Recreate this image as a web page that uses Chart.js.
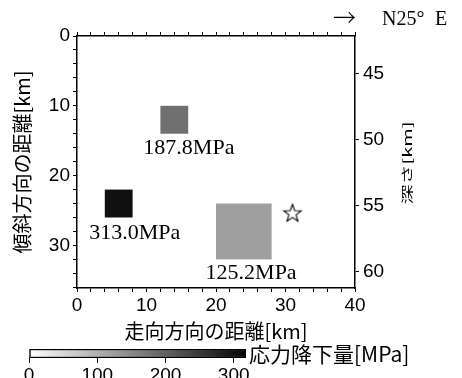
<!DOCTYPE html>
<html>
<head>
<meta charset="utf-8">
<script src="https://cdn.jsdelivr.net/npm/chart.js@4/dist/chart.umd.min.js"></script>
<style>
  html, body { margin: 0; padding: 0; background: #fff; overflow: hidden; }
  #wrap { position: relative; width: 462px; height: 378px; }
  #main { position: absolute; left: 0; top: 0; }
  #bar { position: absolute; left: 0; top: 340px; }
</style>
</head>
<body>
<div id="wrap">
  <canvas id="main" width="462" height="346"></canvas>
  <canvas id="bar" width="462" height="50"></canvas>
</div>
<script>
// Slip patches: extent along strike / down dip (km) and stress drop (MPa)
const patchX0 = [12, 4, 20];
const patchX1 = [16, 8, 28];
const patchY0 = [10, 22, 24];
const patchY1 = [14, 26, 32];
const stressDrop = [187.8, 313.0, 125.2];

// Where each stress-drop label sits (km)
const labelX = [16.1, 8.3, 25.05];
const labelY = [16.1, 28.2, 34.0];

// Hypocenter (km along strike, km down dip)
const hypoX = [31.0];
const hypoY = [25.3];

// Axis ranges and ticks
const strikeRange = [0, 40];
const dipRange = [0, 36.1];
const depthRange = [42.12, 61.24];
const colorRange = [0, 318];
const colorScaleMax = 334;
const strikeTicks = [0, 2, 4, 6, 8, 10, 12, 14, 16, 18, 20, 22, 24, 26, 28, 30, 32, 34, 36, 38, 40];
const dipTicks = [0, 2, 4, 6, 8, 10, 12, 14, 16, 18, 20, 22, 24, 26, 28, 30, 32, 34, 36];
const depthTicks = [45, 50, 55, 60];
const colorTicks = [0, 100, 200, 300];

const SANS = "'Liberation Sans', Arial, sans-serif";
const SERIF = "'Liberation Serif', 'Times New Roman', serif";
const CJK = "'Noto Sans CJK JP', 'Noto Sans', sans-serif";

// white -> black grey ramp used for patches and colour bar
function grayFor(v) {
  const g = Math.round(255 * Math.max(0, Math.min(1, 1 - v / colorScaleMax)));
  return `rgb(${g},${g},${g})`;
}

// outlined five-pointed star used as the hypocenter marker
function starImage() {
  const c = document.createElement('canvas');
  c.width = 22; c.height = 22;
  const g = c.getContext('2d');
  g.beginPath();
  for (let i = 0; i < 10; i++) {
    const r = i % 2 === 0 ? 9.2 : 3.8;
    const a = -Math.PI / 2 + i * Math.PI / 5;
    const px = 11 + r * Math.cos(a), py = 12 + r * Math.sin(a);
    if (i === 0) g.moveTo(px, py); else g.lineTo(px, py);
  }
  g.closePath();
  g.fillStyle = '#fff';
  g.fill();
  g.lineWidth = 1.1;
  g.strokeStyle = '#000';
  g.stroke();
  return c;
}

const fixedTicks = list => scale => { scale.ticks = list.map(v => ({ value: v })); };
const majorOnly = v => (v % 10 === 0 ? String(v) : '');
const axisBorder = { display: true, color: '#000', width: 1.5 };
const tickGrid = () => ({ display: true, drawOnChartArea: false, drawTicks: true, tickLength: 4, color: '#000', lineWidth: 1 });
const tickFont = { family: SANS, size: 19 };

const patchPlugin = {
  id: 'patches',
  beforeDatasetsDraw(chart) {
    const { ctx, scales: { x, y } } = chart;
    ctx.save();
    stressDrop.forEach((v, i) => {
      const l = x.getPixelForValue(patchX0[i]);
      const r = x.getPixelForValue(patchX1[i]);
      const t = y.getPixelForValue(patchY0[i]);
      const b = y.getPixelForValue(patchY1[i]);
      ctx.fillStyle = grayFor(v);
      ctx.fillRect(l, t, r - l, b - t);
    });
    ctx.restore();
  },
  afterDatasetsDraw(chart) {
    const { ctx, scales: { x, y } } = chart;
    ctx.save();
    ctx.font = `22px ${SERIF}`;
    ctx.fillStyle = '#000';
    ctx.textAlign = 'center';
    ctx.textBaseline = 'middle';
    stressDrop.forEach((v, i) => {
      ctx.fillText(v.toFixed(1) + 'MPa', x.getPixelForValue(labelX[i]), y.getPixelForValue(labelY[i]));
    });
    ctx.restore();
  }
};

const framePlugin = {
  id: 'frameText',
  afterDraw(chart) {
    const { ctx, chartArea: a } = chart;
    ctx.save();
    ctx.fillStyle = '#000';
    // strike direction
    ctx.textBaseline = 'alphabetic';
    ctx.textAlign = 'right';
    ctx.font = `300 23px ${CJK}`;
    ctx.fillText('→', a.right + 1, 26);
    ctx.textAlign = 'left';
    ctx.font = `20px ${SERIF}`;
    ctx.fillText('N25°', a.right + 27, 25);
    ctx.fillText('E', a.right + 80, 25);
    // depth axis title, reading upward
    ctx.translate(a.right + 52, (a.top + a.bottom) / 2 + 1);
    ctx.rotate(-Math.PI / 2);
    ctx.scale(1, 0.62);
    ctx.textAlign = 'center';
    ctx.textBaseline = 'middle';
    ctx.font = `20px ${CJK}`;
    ctx.fillText('深さ[km]', 0, 0);
    ctx.restore();
  }
};

new Chart(document.getElementById('main'), {
  type: 'scatter',
  data: {
    datasets: [{
      data: hypoX.map((v, i) => ({ x: v, y: hypoY[i] })),
      pointStyle: starImage(),
      xAxisID: 'x',
      yAxisID: 'y'
    }]
  },
  options: {
    responsive: false,
    animation: false,
    events: [],
    layout: { padding: 0 },
    plugins: { legend: { display: false }, tooltip: { enabled: false } },
    scales: {
      x: {
        type: 'linear', position: 'bottom', min: strikeRange[0], max: strikeRange[1],
        afterBuildTicks: fixedTicks(strikeTicks),
        ticks: { callback: majorOnly, font: tickFont, color: '#000', padding: 2, maxRotation: 0, autoSkip: false },
        grid: tickGrid(), border: axisBorder,
        title: { display: true, text: '走向方向の距離[km]', font: { family: CJK, size: 20 }, color: '#000', padding: { top: 0, bottom: 3 } },
        afterFit: s => { s.height = 58; }
      },
      x2: {
        type: 'linear', position: 'top', min: strikeRange[0], max: strikeRange[1],
        afterBuildTicks: fixedTicks(strikeTicks),
        ticks: { callback: () => '', autoSkip: false, maxRotation: 0 },
        grid: tickGrid(), border: axisBorder,
        afterFit: s => { s.height = 36; }
      },
      y: {
        type: 'linear', position: 'left', reverse: true, min: dipRange[0], max: dipRange[1],
        afterBuildTicks: fixedTicks(dipTicks),
        ticks: { callback: majorOnly, font: tickFont, color: '#000', padding: 3, autoSkip: false },
        grid: tickGrid(), border: axisBorder,
        title: { display: true, text: '傾斜方向の距離[km]', font: { family: CJK, size: 20 }, color: '#000', padding: { top: 10, bottom: 0 } },
        afterFit: s => { s.width = 77; }
      },
      depth: {
        type: 'linear', position: 'right', reverse: true, min: depthRange[0], max: depthRange[1],
        afterBuildTicks: fixedTicks(depthTicks),
        ticks: { callback: v => String(v), font: tickFont, color: '#000', padding: 4, autoSkip: false },
        grid: tickGrid(), border: axisBorder,
        afterFit: s => { s.width = 107; }
      }
    }
  },
  plugins: [patchPlugin, framePlugin]
});

// Colour bar for stress drop
const barLabelPlugin = {
  id: 'barLabel',
  afterDraw(chart) {
    const { ctx, chartArea: a } = chart;
    ctx.save();
    ctx.fillStyle = '#000';
    ctx.font = `21px ${CJK}`;
    ctx.textAlign = 'left';
    ctx.textBaseline = 'middle';
    ctx.fillText('応力降下量[MPa]', a.right + 3, (a.top + a.bottom) / 2 + 1);
    ctx.restore();
  }
};

new Chart(document.getElementById('bar'), {
  type: 'bar',
  data: {
    labels: ['応力降下量'],
    datasets: [{
      data: [[colorRange[0], colorRange[1]]],
      backgroundColor: c => {
        const { chart } = c;
        const area = chart.chartArea;
        if (!area) return null;
        const sx = chart.scales.x;
        const g = chart.ctx.createLinearGradient(sx.getPixelForValue(colorRange[0]), 0, sx.getPixelForValue(colorRange[1]), 0);
        g.addColorStop(0, grayFor(colorRange[0]));
        g.addColorStop(0.97, grayFor(colorRange[1]));
        g.addColorStop(1, '#000');
        return g;
      },
      borderColor: '#000',
      borderWidth: 1.5,
      borderSkipped: false,
      barPercentage: 1,
      categoryPercentage: 1
    }]
  },
  options: {
    indexAxis: 'y',
    responsive: false,
    animation: false,
    events: [],
    layout: { padding: { left: 29, right: 216, top: 9, bottom: 0 } },
    plugins: { legend: { display: false }, tooltip: { enabled: false } },
    scales: {
      x: {
        type: 'linear', min: colorRange[0], max: colorRange[1],
        afterBuildTicks: fixedTicks(colorTicks),
        ticks: { font: tickFont, color: '#000', padding: 1, maxRotation: 0, autoSkip: false },
        grid: { drawOnChartArea: false, tickLength: 5, color: '#000' },
        border: { display: false },
        afterFit: s => { s.height = 32; }
      },
      y: { display: false }
    }
  },
  plugins: [barLabelPlugin]
});
</script>
</body>
</html>
